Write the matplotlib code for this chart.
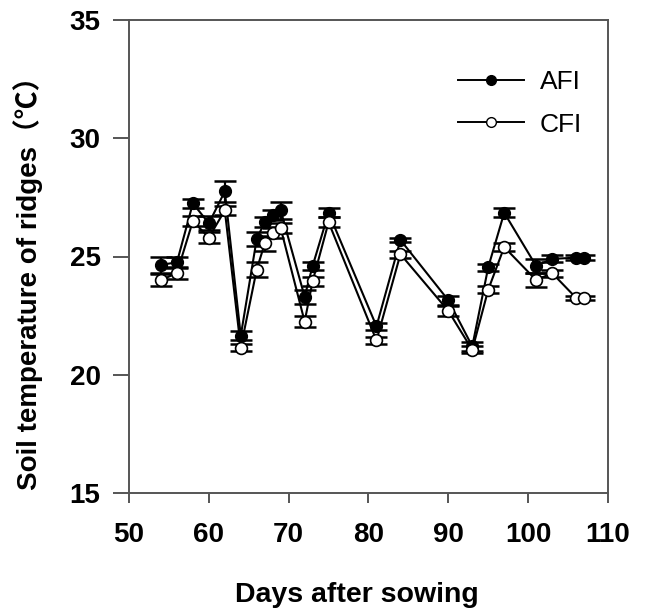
import matplotlib
matplotlib.use("Agg")
import matplotlib.pyplot as plt
from matplotlib.lines import Line2D

FIG_W = 6.45
FIG_H = 6.10
FIG_DPI = 100

# days after sowing
days = [54, 56, 58, 60, 62, 64, 66, 67, 68, 69, 72, 73, 75, 81, 84, 90, 93, 95, 97, 101, 103, 106, 107]

afi = [24.65, 24.75, 27.25, 26.4, 27.75, 21.65, 25.75, 26.45, 26.75, 26.95, 23.3, 24.6, 26.85, 22.05, 25.7,
       23.15, 21.2, 24.55, 26.85, 24.6, 24.9, 24.95, 24.95]
afi_err = [0.35, 0.25, 0.2, 0.3, 0.45, 0.2, 0.3, 0.2, 0.2, 0.35, 0.3, 0.15, 0.2, 0.15, 0.1,
           0.2, 0.2, 0.15, 0.2, 0.3, 0.15, 0.1, 0.1]

cfi = [24.0, 24.3, 26.5, 25.8, 26.95, 21.15, 24.45, 25.55, 26.0, 26.2, 22.25, 23.95, 26.45, 21.45, 25.1,
       22.7, 21.05, 23.6, 25.4, 24.0, 24.3, 23.25, 23.25]
cfi_err = [0.25, 0.25, 0.2, 0.25, 0.2, 0.15, 0.3, 0.3, 0.2, 0.2, 0.25, 0.2, 0.2, 0.15, 0.15,
           0.2, 0.15, 0.15, 0.15, 0.3, 0.15, 0.1, 0.1]

series_names = ["AFI", "CFI"]

FONT = ["Liberation Sans", "Noto Sans CJK SC", "DejaVu Sans"]
plt.rcParams["font.family"] = FONT

fig = plt.figure(figsize=(FIG_W, FIG_H), dpi=FIG_DPI)
ax = fig.add_axes([129 / 645, 1 - 493 / 610, (608 - 129) / 645, (493 - 20) / 610])

spine_col = "#555555"
for s in ax.spines.values():
    s.set_color(spine_col)
    s.set_linewidth(1.4)

# error bars first, then lines with markers
ax.errorbar(days, afi, yerr=afi_err, fmt="none", ecolor="black", elinewidth=1.6,
            capsize=8, capthick=1.8, zorder=2)
ax.plot(days, afi, color="black", lw=1.5, marker="o", ms=8.5, mfc="black", mec="black", zorder=3)
ax.errorbar(days, cfi, yerr=cfi_err, fmt="none", ecolor="black", elinewidth=1.6,
            capsize=8, capthick=1.8, zorder=4)
ax.plot(days, cfi, color="black", lw=1.5, marker="o", ms=8.5, mfc="white", mec="black", mew=1.2, zorder=5)

ax.set_xlim(50, 110)
ax.set_ylim(15, 35)
ax.set_xticks(range(50, 111, 10))
ax.set_yticks(range(15, 36, 5))

ax.tick_params(axis="x", direction="out", length=7.2, width=1.4, color=spine_col, pad=14,
               labelsize=20)
ax.tick_params(axis="y", direction="out", length=11.5, width=1.4, color=spine_col, pad=9,
               labelsize=20)
for lab in ax.get_xticklabels() + ax.get_yticklabels():
    lab.set_fontweight("bold")

# legend
handles = [
    Line2D([], [], color="black", lw=1.4, marker="o", ms=7, mfc="black", mec="black"),
    Line2D([], [], color="black", lw=1.4, marker="o", ms=7, mfc="white", mec="black"),
]
ax.legend(handles, series_names, loc="upper left", bbox_to_anchor=(0.687, 0.894),
          frameon=False, fontsize=19, handlelength=2.5, handletextpad=0.6,
          labelspacing=0.7, borderpad=0, borderaxespad=0)

fig.text(357 / 645, 1 - 595 / 610, "Days after sowing", ha="center", va="center",
         fontsize=20.5, fontweight="bold")
fig.text(28 / 645, 1 - 276 / 610, "Soil temperature of ridges（℃）", ha="center", va="center",
         rotation=90, fontsize=20, fontweight="bold")

fig.savefig("out.png", dpi=FIG_DPI)
plt.close(fig)
